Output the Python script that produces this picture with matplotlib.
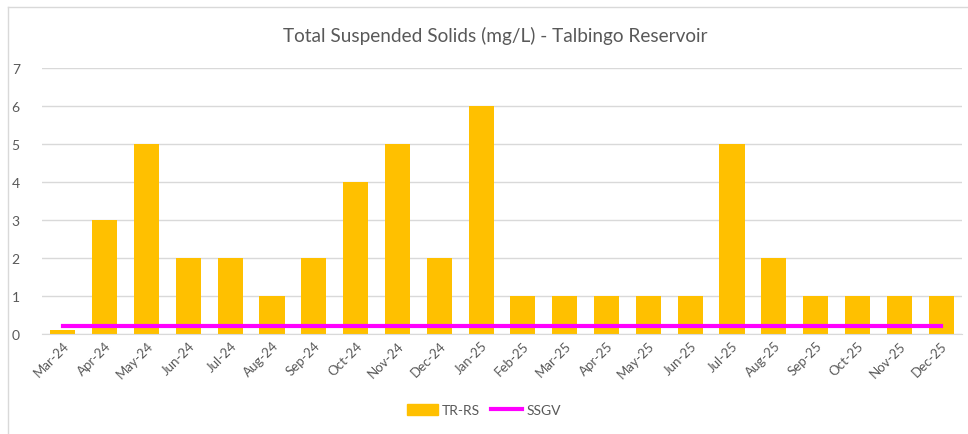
import matplotlib
matplotlib.use("Agg")
import matplotlib.pyplot as plt
from matplotlib.lines import Line2D

months = ["Mar-24", "Apr-24", "May-24", "Jun-24", "Jul-24", "Aug-24", "Sep-24",
          "Oct-24", "Nov-24", "Dec-24", "Jan-25", "Feb-25", "Mar-25", "Apr-25",
          "May-25", "Jun-25", "Jul-25", "Aug-25", "Sep-25", "Oct-25", "Nov-25", "Dec-25"]
tr_rs = [0.1, 3, 5, 2, 2, 1, 2, 4, 5, 2, 6, 1, 1, 1, 1, 1, 5, 2, 1, 1, 1, 1]
ssgv = [0.2] * len(months)

text_col = "#595959"
plt.rcParams['font.family'] = ['Lato', 'DejaVu Sans']

fig = plt.figure(figsize=(9.68, 4.35), dpi=100)
ax = fig.add_axes([0.0434, 0.2299, 0.9504, 0.6115])

x = list(range(len(months)))
ax.bar(x, tr_rs, width=0.6, color="#FFC000", zorder=2, label="TR-RS")
ax.plot(x, ssgv, color="#FF00FF", linewidth=3, zorder=3, label="SSGV")

ax.set_xlim(-0.5, len(months) - 0.5)
ax.set_ylim(0, 7)
ax.set_yticks(range(0, 8))
ax.grid(axis="y", color="#d9d9d9", linewidth=1, zorder=0)
for s in ["top", "right", "left"]:
    ax.spines[s].set_visible(False)
ax.spines["bottom"].set_color("#d9d9d9")
ax.tick_params(axis="both", length=0, colors=text_col, labelsize=10)
ax.tick_params(axis="y", pad=16)
ax.set_xticks(x)
ax.set_xticklabels(months, rotation=45, ha="right", rotation_mode="anchor", fontsize=9.5)

fig.text(0.512, 0.918, "Total Suspended Solids (mg/L) - Talbingo Reservoir",
         ha="center", va="center", fontsize=13.7, color=text_col)

handles = [plt.Rectangle((0, 0), 1, 1, color="#FFC000"),
           Line2D([0], [0], color="#FF00FF", linewidth=3)]
leg = fig.legend(handles, ["TR-RS", "SSGV"], loc="center", bbox_to_anchor=(0.5, 0.055),
                 ncol=2, frameon=False, fontsize=10, handlelength=2.2, handleheight=0.8,
                 columnspacing=0.8, handletextpad=0.3)
for t in leg.get_texts():
    t.set_color(text_col)

# chart border (left and top edges visible in the reference)
fig.add_artist(Line2D([8 / 968, 8 / 968], [0, 1 - 8 / 435], transform=fig.transFigure,
                      color="#d9d9d9", linewidth=1))
fig.add_artist(Line2D([8 / 968, 1], [1 - 8 / 435, 1 - 8 / 435], transform=fig.transFigure,
                      color="#d9d9d9", linewidth=1))

fig.savefig("out.png", dpi=100)
